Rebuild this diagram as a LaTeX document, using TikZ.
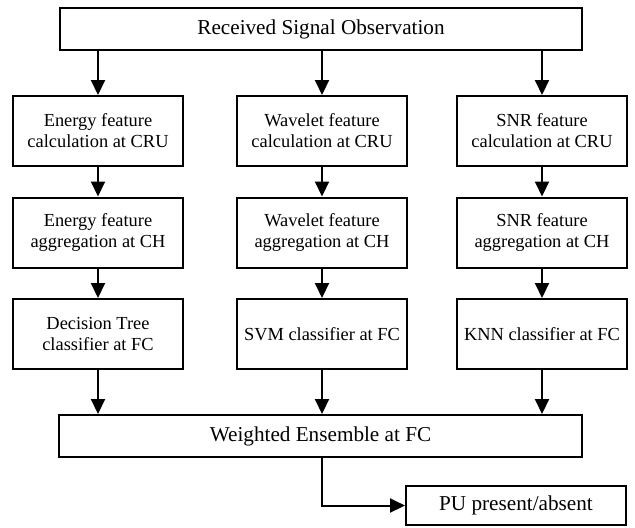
\documentclass[tikz,border=0pt]{standalone}
\usepackage{fontspec}
\setmainfont{Liberation Serif}
\usetikzlibrary{arrows.meta}
\begin{document}
\begin{tikzpicture}[x=0.5pt,y=-0.5pt]
    % 设置样式
    \tikzset{
        box/.style={rectangle, draw, line width=1pt, align=center, inner sep=1pt, minimum width=85pt, minimum height=35pt, font=\fontsize{9.2}{10.5}\selectfont},
        widebox/.style={rectangle, draw, line width=1pt, inner sep=1pt, minimum height=21pt, font=\fontsize{10.6}{12}\selectfont},
        arr/.style={line width=1pt, -{Triangle[width=7pt,length=7.5pt]}},
    }

    % 固定边界
    \path[use as bounding box] (0,0) rectangle (635,527);

    % 顶部输入框
    \node[widebox, minimum width=261pt] (obs) at (321,29) {Received Signal Observation};

    % 合并框
    \node[widebox, minimum width=261.5pt] (ens) at (320.5,436) {Weighted Ensemble at FC};

    % 三列特征处理 (计算, 聚合, 分类器)
    \foreach \c/\x/\feat/\clf in {1/98/Energy/{Decision Tree\\classifier at FC}, 2/322/Wavelet/{SVM classifier at FC}, 3/542/SNR/{KNN classifier at FC}} {
        \node[box] (calc\c) at (\x,131) {\feat{} feature\\calculation at CRU};
        \node[box] (aggr\c) at (\x,232.5) {\feat{} feature\\aggregation at CH};
        \node[box] (clf\c) at (\x,334) {\clf};
        \draw[arr] (obs.south -| calc\c) -- (calc\c);
        \draw[arr] (calc\c) -- (aggr\c);
        \draw[arr] (aggr\c) -- (clf\c);
        \draw[arr] (clf\c) -- (clf\c |- ens.north);
    }

    % 输出
    \node[widebox, minimum width=110pt, minimum height=19.5pt] (pu) at (516,505.5) {PU present/absent};
    \draw[arr] (ens.south -| clf2) |- (pu.west);
\end{tikzpicture}
\end{document}
